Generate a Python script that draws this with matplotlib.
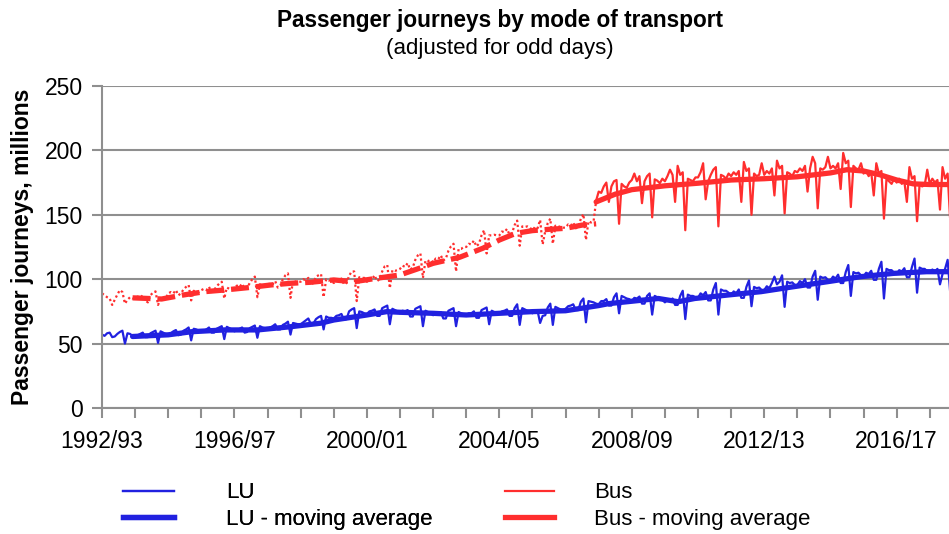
import matplotlib
matplotlib.use('Agg')
import matplotlib.pyplot as plt
import numpy as np
from matplotlib.lines import Line2D

# 13 four-weekly periods per financial year, starting 1992/93 (millions of journeys)
lu_raw = [
    57, 56, 58, 58.5, 55, 55.5, 57.5, 59, 60, 50, 58, 57.5, 56,               # 1992/93
    55.5, 56.5, 57.5, 58.5, 55, 55, 58, 59, 60, 50.5, 59.5, 58.5, 57.5,       # 1993/94
    57, 58, 59.5, 60.5, 56.5, 57, 60, 61, 62.5, 52.5, 61.5, 61, 60,           # 1994/95
    59, 60, 61, 62.5, 58.5, 58.5, 61.5, 62.5, 63.5, 53.5, 63, 62, 61,         # 1995/96
    59.5, 60.5, 61.5, 62.5, 58.5, 59, 62, 63, 64, 54.5, 63.5, 62.5, 62,       # 1996/97
    61, 62.5, 63.5, 65, 61, 61, 64.5, 65.5, 67, 57, 66, 65.5, 65,             # 1997/98
    65, 66.5, 68, 69.5, 65, 65.5, 69, 70.5, 71.5, 61, 71, 70, 70,             # 1998/99
    69.5, 71.5, 72, 73, 68.5, 69, 75, 76.5, 77.5, 62, 75, 74.5, 73.5,         # 1999/00
    73, 75, 75.5, 76.5, 71.5, 71.5, 77.5, 78.5, 79.5, 65, 77, 76, 75,         # 2000/01
    73.5, 75.5, 75, 76, 71, 71, 77, 78, 79, 63.5, 75.5, 74.5, 73.5,           # 2001/02
    72, 74, 73.5, 74.5, 69.5, 69.5, 75.5, 76.5, 77.5, 63.5, 74.5, 73.5, 72.5, # 2002/03
    72, 73.5, 73.5, 75, 70, 70, 76, 77, 78, 65, 75.5, 74.5, 73.5,             # 2003/04
    73, 75, 75.5, 76.5, 71.5, 71.5, 77.5, 80.5, 64.5, 77.5, 76.5, 75.5, 75,   # 2004/05
    73.5, 75.5, 75.5, 66, 71.5, 72, 78, 81, 64.5, 78.5, 77.5, 76.5, 76,       # 2005/06
    77, 79, 79.5, 80.5, 76, 76, 82.5, 85, 66.5, 83, 82.5, 82, 81,             # 2006/07
    80.5, 83, 83, 84.5, 79.5, 79.5, 86, 89, 73.5, 87, 86, 85, 84.5,           # 2007/08
    83, 85.5, 85, 86.5, 81, 81, 87, 89, 72.5, 87, 86, 85.5, 84,               # 2008/09
    82, 84, 83, 85, 80, 80, 87, 91, 69, 88, 87, 87, 86,                       # 2009/10
    85.5, 89, 87.5, 90, 83.5, 83.5, 92, 97, 72.5, 92, 91, 91, 89.5,           # 2010/11
    87.5, 90.5, 89, 92, 85.5, 85.5, 94, 99, 79, 94, 93, 93.5, 91.5,           # 2011/12
    91.5, 94.5, 93, 97, 102, 96, 98, 103, 78.5, 98, 97, 97.5, 95.5,           # 2012/13
    95.5, 98.5, 97, 100, 93.5, 93.5, 102, 106.5, 84, 102, 101, 101.5, 99.5,   # 2013/14
    99, 102, 100.5, 103.5, 97, 97, 105.5, 111, 87, 105.5, 104.5, 105, 103,    # 2014/15
    102, 105, 104, 106.5, 99.5, 99.5, 108, 113.5, 85, 108, 107, 107, 105,     # 2015/16
    104, 107, 106, 108.5, 101.5, 101.5, 109.5, 116, 89.5, 109, 108, 108, 106, # 2016/17
    105, 107.5, 106, 108, 96, 104, 108, 115, 90,                              # 2017/18
]

# bus, old series (dotted) up to 2006/07 period 13
bus_raw_old = [
    89, 87.5, 86, 85, 80, 84, 88, 91.5, 90, 81, 84, 86, 85,
    85.5, 86.5, 85.5, 87.5, 83.5, 82, 87.5, 89.5, 90.5, 80, 85.5, 85, 85,
    89, 90, 89, 91.5, 87.5, 89, 92, 94, 95.5, 83.5, 91, 90, 90,
    91.5, 92.5, 91.5, 94, 90, 91.5, 94.5, 96.5, 98, 85, 93.5, 92.5, 92.5,
    93.5, 95, 94, 96.5, 92.5, 93.5, 97, 100, 102, 86, 96, 95, 95.5,
    95, 97, 96, 98.5, 93.5, 95, 100, 103, 104.5, 85.5, 99, 98, 98,
    98, 100, 99, 101, 96, 97, 102, 103, 104, 86, 100, 99, 99,
    97, 99, 98.5, 100.5, 96, 97, 102.5, 106, 106, 83, 101.5, 101, 101,
    98, 100.5, 100, 103, 98.5, 100, 106, 110, 111, 93, 107, 106.5, 107,
    108, 110.5, 109.5, 112.5, 107.5, 109, 115, 118.5, 120, 101, 114.5, 114, 115,
    113, 116, 115.5, 118.5, 114.5, 116, 122, 125.5, 127.5, 106, 123.5, 123.5, 125,
    125, 127.5, 127, 130, 125.5, 127.5, 134, 138, 120, 134, 134, 134.5, 134,
    134, 137, 136.5, 139, 134.5, 136, 142, 145.5, 126, 141, 140.5, 141, 140,
    138, 140.5, 139.5, 146, 127, 137, 143.5, 147, 127.5, 141.5, 140.5, 141, 140,
    140, 142.5, 141.5, 144, 139.5, 140.5, 147, 150.5, 130.5, 145, 144, 145, 161,
]

# bus, new series (solid) from 2006/07 period 13
bus_raw_new = [
    161,
    168, 167, 172, 175, 160, 172, 176, 177, 143, 174, 172, 171, 175,
    177, 182, 176, 180, 159, 176, 180, 182, 148, 177.5, 176.5, 174.5, 178,
    176, 180, 185, 181, 160, 188, 181, 183, 138, 178, 177, 176, 179,
    179, 183, 190, 162, 176, 181, 185, 187, 141, 181, 180, 178, 182,
    180, 183, 181, 184, 160, 191, 184, 186, 150, 182, 180, 181, 190,
    181, 184, 182, 186, 165, 192, 186, 188, 151, 183, 182, 180, 184,
    183, 186, 184, 188, 168, 186, 195, 190, 155, 186, 185, 187, 195,
    186, 188, 186, 190, 170, 198, 190, 192, 156, 188, 186, 185, 190,
    182, 184, 180, 183, 165, 190, 182, 184, 147, 178, 176, 174, 178,
    175, 178, 174, 176, 160, 187, 178, 180, 145, 174, 172, 173, 185,
    174, 178, 175, 177, 154, 187, 178, 182, 146,
]
bus_new_start = 194  # period index where the new bus series begins

# moving averages (years since start of 1992/93)
lu_ma_years = [0.923, 2, 2.7, 3.7, 4.7, 5.7, 6.6, 7, 8, 8.6, 9, 10, 11, 12, 13, 14, 15,
               15.3, 16.8, 17.4, 17.9, 18.9, 19.9, 20.9, 21.9, 22.9, 23.9, 24.9, 25.58]
lu_ma = [55.5, 56.8, 59.2, 60.6, 60.6, 63.1, 65.8, 68.3, 72.2, 74.8, 74.3, 73.5, 72.2, 73.5,
         74.8, 75.5, 79.5, 81, 85, 82.5, 85, 87.7, 90.3, 94.2, 98, 101.9, 104.5, 105.8, 105.8]

bus_ma_old_years = [0.923, 1.8, 2.45, 3.1, 3.7, 4.4, 5.1, 5.7, 6.3, 7, 7.6, 8.3, 9, 9.5, 10,
                    10.8, 11.5, 12, 12.5, 13, 13.5, 14, 14.5, 14.923]
bus_ma_old = [85.5, 84.6, 87.7, 90.3, 91.6, 93.4, 95.5, 96.8, 97.6, 99.4, 98, 100.7, 103.3,
              107.7, 112.3, 117, 124, 130.4, 135.6, 137.7, 138.7, 139.5, 142, 143]

bus_ma_new_years = [14.923, 15.5, 16, 17, 18, 19, 20, 21, 22, 22.5, 23, 23.5, 24, 24.5, 25, 25.58]
bus_ma_new = [160, 166, 169.5, 172.5, 174.5, 177, 178, 179.5, 182.5, 185, 184, 181, 177,
              174, 173.5, 173.5]

year_labels = ['1992/93', '1996/97', '2000/01', '2004/05', '2008/09', '2012/13', '2016/17']

blue = '#2121e0'
red = '#ff2e2e'
grey = '#8f8f8f'

plt.rcParams['font.family'] = ['Liberation Sans', 'DejaVu Sans']

fig = plt.figure(figsize=(9.49, 5.34), dpi=100)
ax = fig.add_axes([0.1075, 0.236, 0.8925, 0.603])

x_lu = np.arange(len(lu_raw)) / 13
x_bus_old = np.arange(len(bus_raw_old)) / 13
x_bus_new = (bus_new_start + np.arange(len(bus_raw_new))) / 13

ax.plot(x_lu, lu_raw, color=blue, lw=1.6)
ax.plot(x_bus_old, bus_raw_old, color=red, lw=1.6, linestyle=(0, (1, 1.2)))
ax.plot(x_bus_new, bus_raw_new, color=red, lw=1.6)
ax.plot(lu_ma_years, lu_ma, color=blue, lw=3.8, solid_capstyle='round')
ax.plot(bus_ma_old_years, bus_ma_old, color=red, lw=3.8, linestyle=(0, (3.4, 1.3)))
ax.plot(bus_ma_new_years, bus_ma_new, color=red, lw=3.8, solid_capstyle='round')

ax.set_xlim(0, 25.58)
ax.set_ylim(0, 250)
ax.set_yticks(range(0, 251, 50))
ax.set_xticks(range(0, 26))
ax.set_xticklabels([year_labels[i // 4] if i % 4 == 0 else '' for i in range(26)])

ax.yaxis.grid(True, color=grey, lw=1.5)
ax.set_axisbelow(True)
for side in ['top', 'right']:
    ax.spines[side].set_visible(False)
for side in ['left', 'bottom']:
    ax.spines[side].set_color(grey)
    ax.spines[side].set_linewidth(1.5)
ax.tick_params(axis='both', color=grey, width=1.5, length=7, labelsize=16.5)
ax.tick_params(axis='x', pad=9)
ax.tick_params(axis='y', pad=7)

fig.text(0.527, 0.962, 'Passenger journeys by mode of transport', ha='center', va='center',
         fontsize=16.3, fontweight='bold')
fig.text(0.527, 0.910, '(adjusted for odd days)', ha='center', va='center', fontsize=16)
fig.text(0.024, 0.537, 'Passenger journeys, millions', rotation=90, ha='center', va='center',
         fontsize=16.5, fontweight='bold')

# two legend columns, placed separately like the original
lu_handles = [Line2D([], [], color=blue, lw=1.6), Line2D([], [], color=blue, lw=3.8)]
bus_handles = [Line2D([], [], color=red, lw=1.6), Line2D([], [], color=red, lw=3.8)]
leg_lu = fig.legend(lu_handles, ['LU', 'LU - moving average'], loc='center left',
                    bbox_to_anchor=(0.1295, 0.052), frameon=False, fontsize=16,
                    handlelength=2.3, handletextpad=2.35, borderpad=0, borderaxespad=0,
                    labelspacing=0.25)
fig.add_artist(leg_lu)
fig.legend(bus_handles, ['Bus', 'Bus - moving average'], loc='center left',
           bbox_to_anchor=(0.532, 0.052), frameon=False, fontsize=16,
           handlelength=2.2, handletextpad=1.8, borderpad=0, borderaxespad=0,
           labelspacing=0.25)

fig.savefig('out.png', dpi=100)
